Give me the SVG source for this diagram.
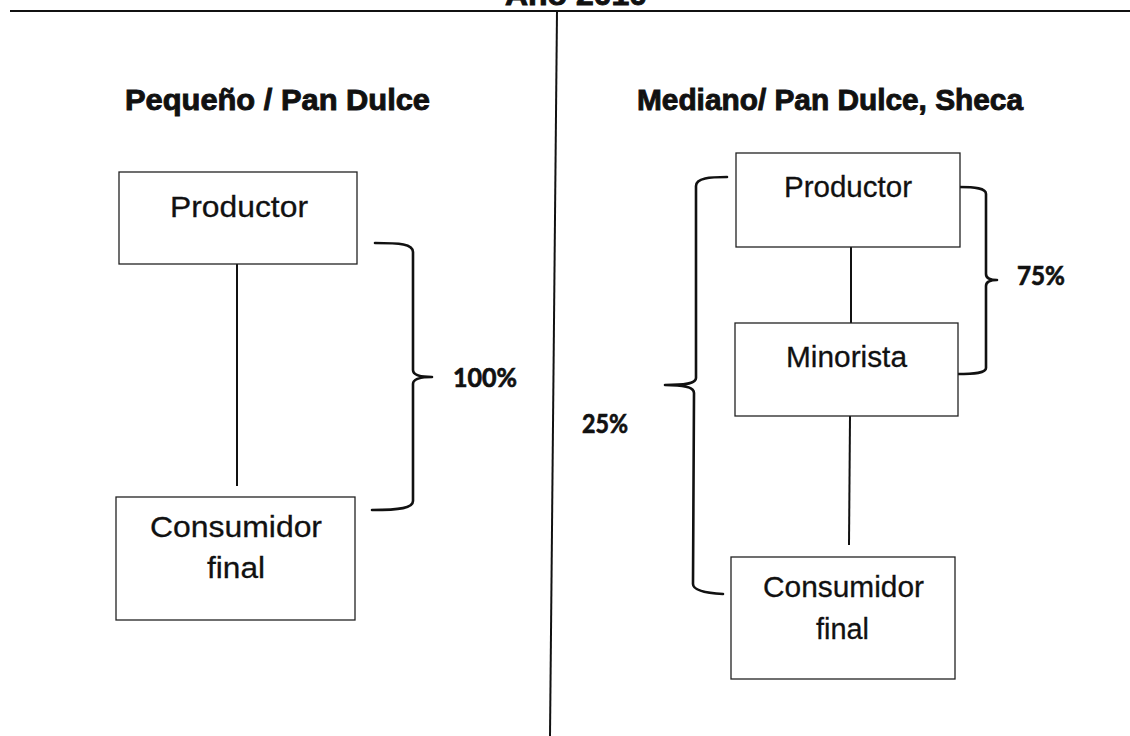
<svg xmlns="http://www.w3.org/2000/svg" width="1130" height="736" viewBox="0 0 1130 736">
<style>
.title{font-family:"Liberation Sans",Arial,sans-serif;font-weight:bold;font-size:29px;fill:#111;stroke:#111;stroke-width:0.9}
.lbl{font-family:"Liberation Sans",Arial,sans-serif;font-size:30px;fill:#111;stroke:#111;stroke-width:0.3}
.pct{font-family:Lato,"Open Sans",sans-serif;font-weight:bold;font-size:27px;fill:#111;stroke:#111;stroke-width:0.7}
.box{fill:#fff;stroke:#222;stroke-width:1.3}
.ln{fill:none;stroke:#111;stroke-width:2}
.brace{fill:none;stroke:#111;stroke-width:2.6;stroke-linecap:round;stroke-linejoin:round}
</style>
<rect x="0" y="0" width="1130" height="736" fill="#fff"/>
<g id="frame">
<text class="title" x="505" y="5" textLength="142" lengthAdjust="spacingAndGlyphs">Año 2010</text>
<line class="ln" x1="10" y1="11" x2="1130" y2="11" stroke-width="2.5"/>
<line class="ln" x1="557" y1="11" x2="550" y2="736"/>
<text class="title" x="125" y="110" textLength="305" lengthAdjust="spacingAndGlyphs">Pequeño / Pan Dulce</text>
<text class="title" x="637" y="110" textLength="386" lengthAdjust="spacingAndGlyphs">Mediano/ Pan Dulce, Sheca</text>
</g>
<g id="connectors">
<line class="ln" x1="237" y1="264" x2="237" y2="486"/>
<line class="ln" x1="851" y1="247" x2="851" y2="323"/>
<line class="ln" x1="850" y1="416" x2="849" y2="545"/>
<path class="brace" d="M375,243 C400,243 413,244 413,252 L413,370 C413,375 420,377 432,377 C420,377 413,379 413,384 L413,501 C413,508 400,510 372,510"/>
<path class="brace" d="M959,187 C975,187 986,188 986,194 L986,274 C986,278 990,280 997,280 C990,280 986,282 986,286 L986,368 C986,373 975,374 957,374"/>
<path class="brace" d="M727,177 C710,177 696,178 696,186 L696,378 C696,383 688,385 665,385 C688,385 694,388 694,393 L693,584 C693,590 705,593 723,594"/>
<text class="pct" x="453" y="387" textLength="64" lengthAdjust="spacingAndGlyphs">100%</text>
<text class="pct" x="1017" y="285" textLength="48" lengthAdjust="spacingAndGlyphs">75%</text>
<text class="pct" x="582" y="433" textLength="46" lengthAdjust="spacingAndGlyphs">25%</text>
</g>
<g id="productor-left">
<rect class="box" x="119" y="172" width="238" height="92"/>
<text class="lbl" x="170" y="217" textLength="138" lengthAdjust="spacingAndGlyphs">Productor</text>
</g>
<g id="consumidor-left">
<rect class="box" x="116" y="497" width="239" height="123"/>
<text class="lbl" x="150" y="537" textLength="172" lengthAdjust="spacingAndGlyphs">Consumidor</text>
<text class="lbl" x="207" y="578" textLength="58" lengthAdjust="spacingAndGlyphs">final</text>
</g>
<g id="productor-right">
<rect class="box" x="736" y="153" width="224" height="94"/>
<text class="lbl" x="784" y="197" textLength="128" lengthAdjust="spacingAndGlyphs">Productor</text>
</g>
<g id="minorista">
<rect class="box" x="735" y="323" width="223" height="93"/>
<text class="lbl" x="786" y="367" textLength="121" lengthAdjust="spacingAndGlyphs">Minorista</text>
</g>
<g id="consumidor-right">
<rect class="box" x="731" y="557" width="224" height="122"/>
<text class="lbl" x="763" y="597" textLength="161" lengthAdjust="spacingAndGlyphs">Consumidor</text>
<text class="lbl" x="816" y="639" textLength="53" lengthAdjust="spacingAndGlyphs">final</text>
</g>
</svg>
